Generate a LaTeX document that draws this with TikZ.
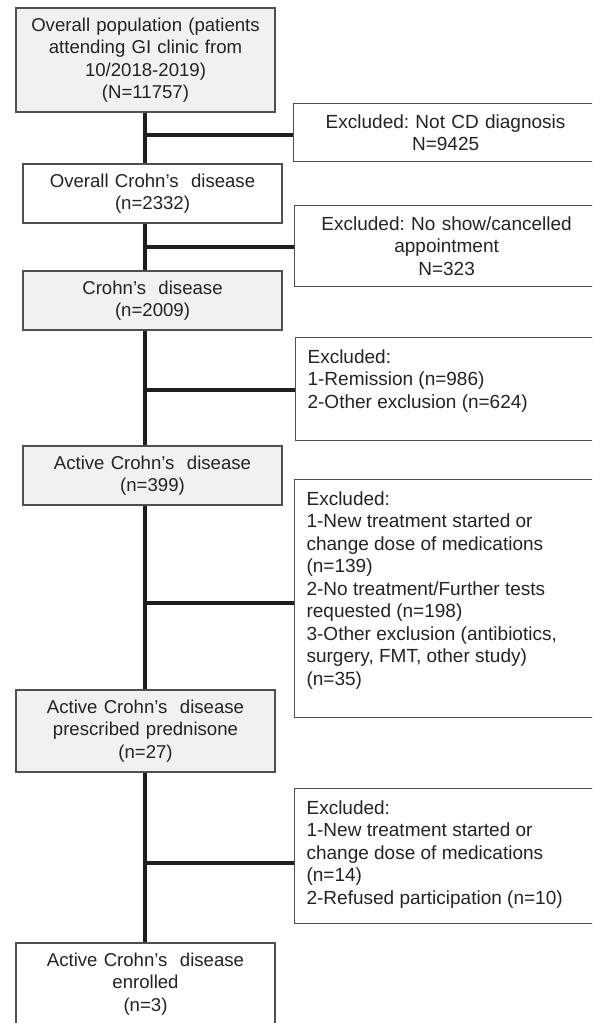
\documentclass[tikz,border=0pt]{standalone}
\usepackage{fontspec}
\setmainfont{Liberation Sans}
\usepackage{tikz}
\usetikzlibrary{positioning}
\frenchspacing
\definecolor{boxgray}{RGB}{240,241,242}
\definecolor{edgegray}{RGB}{80,80,80}
\definecolor{linegray}{RGB}{30,30,30}
\definecolor{textgray}{RGB}{35,35,35}
\newcommand{\exlist}[2]{\parbox[c][#1][t]{280pt}{\raggedright #2}}

\begin{document}
\begin{tikzpicture}[x=1pt, y=-1pt,
    every node/.style={font=\fontsize{19}{22.5}\selectfont, text=textgray},
    stagebox/.style={draw=edgegray, line width=1.2pt, minimum width=259pt,
        text width=255pt, align=center, inner sep=2pt, font=\fontsize{18.6}{22.5}\selectfont},
    exbox/.style={draw=edgegray, line width=1.2pt, anchor=north west, minimum width=304pt,
        text width=290pt, align=center, inner sep=7pt},
    exlistbox/.style={draw=edgegray, line width=1.2pt, anchor=north west, minimum width=304pt,
        inner xsep=10pt, inner ysep=12pt},
    trunk/.style={draw=linegray, line width=3.2pt}]
    \useasboundingbox (0,0) rectangle (592,1023);
    \clip (0,0) rectangle (592,1023);
    % stages down the left side
    \node[stagebox, fill=boxgray, minimum height=104pt] (B1) at (145.5,60)
        {Overall population (patients\\attending GI clinic from\\10/2018-2019)\\(N=11757)};
    \node[stagebox, fill=white, minimum height=59pt] (B2) at (152.5,193.5)
        {Overall Crohn’s~~disease\\(n=2332)};
    \node[stagebox, fill=boxgray, minimum height=59pt] (B3) at (152.5,300.5)
        {Crohn’s~~disease\\(n=2009)};
    \node[stagebox, fill=boxgray, minimum height=59pt] (B4) at (152.5,475.5)
        {Active Crohn’s~~disease\\(n=399)};
    \node[stagebox, fill=boxgray, minimum height=82pt] (B5) at (145.5,731)
        {Active Crohn’s~~disease\\prescribed prednisone\\(n=27)};
    \node[stagebox, fill=white, minimum height=82pt] (B6) at (145.5,984)
        {Active Crohn’s~~disease\\enrolled\\(n=3)};
    % exclusions on the right
    \node[exbox, minimum height=58pt] (E1) at (293,103)
        {Excluded: Not CD diagnosis\\N=9425};
    \node[exbox, minimum height=81pt] (E2) at (294,205)
        {Excluded: No show/cancelled\\appointment\\N=323};
    \node[exlistbox] (E3) at (295,337)
        {\exlist{79pt}{Excluded:\\1-Remission (n=986)\\2-Other exclusion (n=624)}};
    \node[exlistbox] (E4) at (294,479)
        {\exlist{214pt}{Excluded:\\1-New treatment started or\\change dose of medications\\(n=139)\\2-No treatment/Further tests\\requested (n=198)\\3-Other exclusion (antibiotics,\\surgery, FMT, other study)\\(n=35)}};
    \node[exlistbox] (E5) at (294,788)
        {\exlist{111pt}{Excluded:\\1-New treatment started or\\change dose of medications\\(n=14)\\2-Refused participation (n=10)}};
    % trunk and branches
    \coordinate (t) at (145,0);
    \foreach \a/\b in {B1/B2,B2/B3,B3/B4,B4/B5,B5/B6}
        \draw[trunk] (\a.south -| t) -- (\b.north -| t);
    \foreach \e/\y in {E1/135,E2/247,E3/390,E4/603,E5/863}{
        \coordinate (j\e) at (145,\y);
        \draw[trunk] (j\e) -- (j\e -| \e.west);
    }
\end{tikzpicture}
\end{document}
